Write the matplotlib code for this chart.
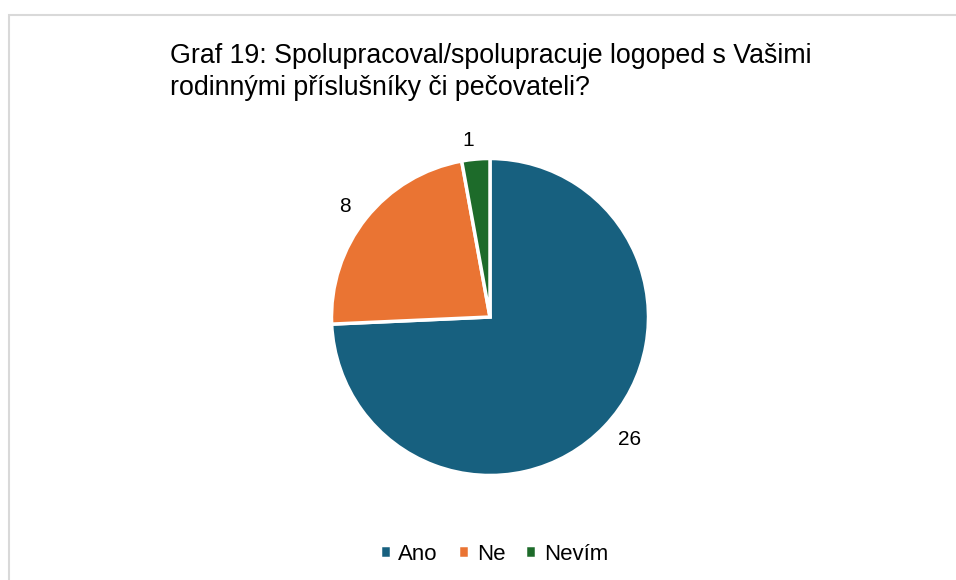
import matplotlib
matplotlib.use("Agg")
from matplotlib import pyplot as plt
from matplotlib.patches import Rectangle

plt.rcParams['font.family'] = ['Liberation Sans', 'DejaVu Sans']

# Data
categories = ["Ano", "Ne", "Nevím"]
counts = [26, 8, 1]
colors = ["#17607F", "#EA7433", "#1D6B2A"]
title = "Graf 19: Spolupracoval/spolupracuje logoped s Vašimi\nrodinnými příslušníky či pečovateli?"

fig = plt.figure(figsize=(9.56, 5.8), dpi=100)

# Chart frame
fig.patches.append(Rectangle((9 / 956, -0.1), 1.2, (580 - 15) / 580 + 0.1,
                             transform=fig.transFigure, fill=False,
                             edgecolor="#D9D9D9", linewidth=1.5))

ax = fig.add_axes([(490 - 158.5) / 956, (580 - 317 - 158.5) / 580, 317 / 956, 317 / 580])
wedges, texts = ax.pie(counts, colors=colors, startangle=90, counterclock=False,
                       labels=[str(c) for c in counts], labeldistance=1.12,
                       wedgeprops=dict(edgecolor="white", linewidth=2.5),
                       textprops=dict(fontsize=15, color="#000000"))
ax.set_xlim(-1, 1)
ax.set_ylim(-1, 1)
ax.set_aspect("equal")
for t in texts:
    t.set_clip_on(False)

fig.text(170 / 956, (580 - 43) / 580, title, ha="left", va="top",
         fontsize=19.3, linespacing=1.32)

fig.legend(wedges, categories, loc="center", bbox_to_anchor=(494 / 956, (580 - 554) / 580),
           ncol=3, frameon=False, fontsize=16, handlelength=0.5, handleheight=0.5,
           handletextpad=0.35, columnspacing=0.9)

fig.savefig("out.png", dpi=100)
